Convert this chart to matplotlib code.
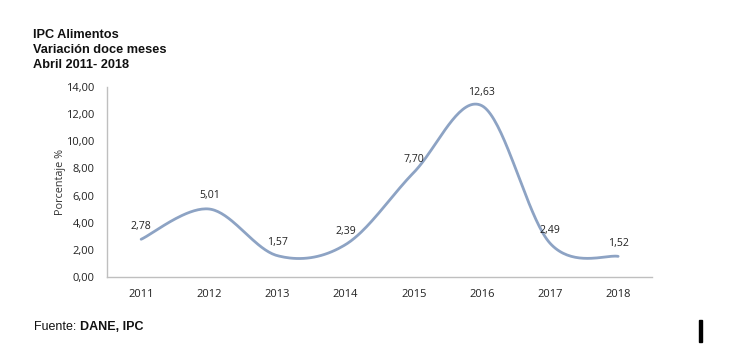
import numpy as np
import matplotlib
matplotlib.use("Agg")
import matplotlib.pyplot as plt
from matplotlib.patches import Rectangle

years = ["2011", "2012", "2013", "2014", "2015", "2016", "2017", "2018"]
values = [2.78, 5.01, 1.57, 2.39, 7.70, 12.63, 2.49, 1.52]
value_labels = ["2,78", "5,01", "1,57", "2,39", "7,70", "12,63", "2,49", "1,52"]
y_ticks = [0, 2, 4, 6, 8, 10, 12, 14]
y_tick_labels = ["0,00", "2,00", "4,00", "6,00", "8,00", "10,00", "12,00", "14,00"]
title_lines = ["IPC Alimentos", "Variación doce meses", "Abril 2011- 2018"]
source_plain = "Fuente: "
source_bold = "DANE, IPC"


def smooth(x, y, n=40, t=0.5):
    """Catmull-Rom style smoothing through the points (similar to Excel smoothed line)."""
    x = np.asarray(x, float)
    y = np.asarray(y, float)
    px = np.concatenate([[x[0]], x, [x[-1]]])
    py = np.concatenate([[y[0]], y, [y[-1]]])
    xs, ys = [], []
    for i in range(1, len(px) - 2):
        p0 = np.array([px[i - 1], py[i - 1]])
        p1 = np.array([px[i], py[i]])
        p2 = np.array([px[i + 1], py[i + 1]])
        p3 = np.array([px[i + 2], py[i + 2]])
        c1 = p1 + (p2 - p0) * t / 3
        c2 = p2 - (p3 - p1) * t / 3
        s = np.linspace(0, 1, n)[:, None]
        b = ((1 - s) ** 3) * p1 + 3 * ((1 - s) ** 2) * s * c1 + 3 * (1 - s) * s ** 2 * c2 + s ** 3 * p2
        xs.extend(b[:, 0])
        ys.extend(b[:, 1])
    return np.array(xs), np.array(ys)


fig = plt.figure(figsize=(7.54, 3.63), dpi=100)
ax = fig.add_axes([0.142, 0.237, 0.723, 0.523])

xpos = np.arange(len(years))
sx, sy = smooth(xpos, values, t=0.5)
ax.plot(sx, sy, color="#8DA3C4", lw=2.0, solid_capstyle="round")

for xi, v, lab in zip(xpos, values, value_labels):
    ax.annotate(lab, (xi, v), xytext=(0, 5.5), textcoords="offset points",
                ha="center", va="bottom", fontsize=7.6, family="Open Sans", color="#222222")

ax.set_xlim(-0.5, len(years) - 0.5)
ax.set_ylim(0, 14)
ax.set_xticks(xpos)
ax.set_xticklabels(years, family="Open Sans", fontsize=8, color="#222222")
ax.set_yticks(y_ticks)
ax.set_yticklabels(y_tick_labels, family="Open Sans", fontsize=8, color="#222222")
ax.tick_params(axis="x", length=0, pad=9)
ax.tick_params(axis="y", length=0, pad=9)
for s in ["top", "right"]:
    ax.spines[s].set_visible(False)
for s in ["left", "bottom"]:
    ax.spines[s].set_color("#BFBFBF")
    ax.spines[s].set_linewidth(1.0)
ax.set_ylabel("Porcentaje %", family="Open Sans", fontsize=7.8, color="#333333", labelpad=0)

for i, line in enumerate(title_lines):
    fig.text(33 / 754, 1 - (35 + 15 * i) / 363, line, family="Liberation Sans",
             fontweight="bold", fontsize=9.2, ha="left", va="center", color="#111111")

t1 = fig.text(34 / 754, 1 - 327 / 363, source_plain, family="Liberation Sans", fontsize=9,
              ha="left", va="center", color="#111111")
renderer = fig.canvas.get_renderer()
w = t1.get_window_extent(renderer=renderer).width
fig.text((34 + w) / 754, 1 - 327 / 363, source_bold, family="Liberation Sans", fontsize=9,
         fontweight="bold", ha="left", va="center", color="#111111")

fig.patches.append(Rectangle((699 / 754, 1 - 342 / 363), 3 / 754, 22 / 363,
                             transform=fig.transFigure, color="black"))

fig.savefig("out.png", dpi=100)
